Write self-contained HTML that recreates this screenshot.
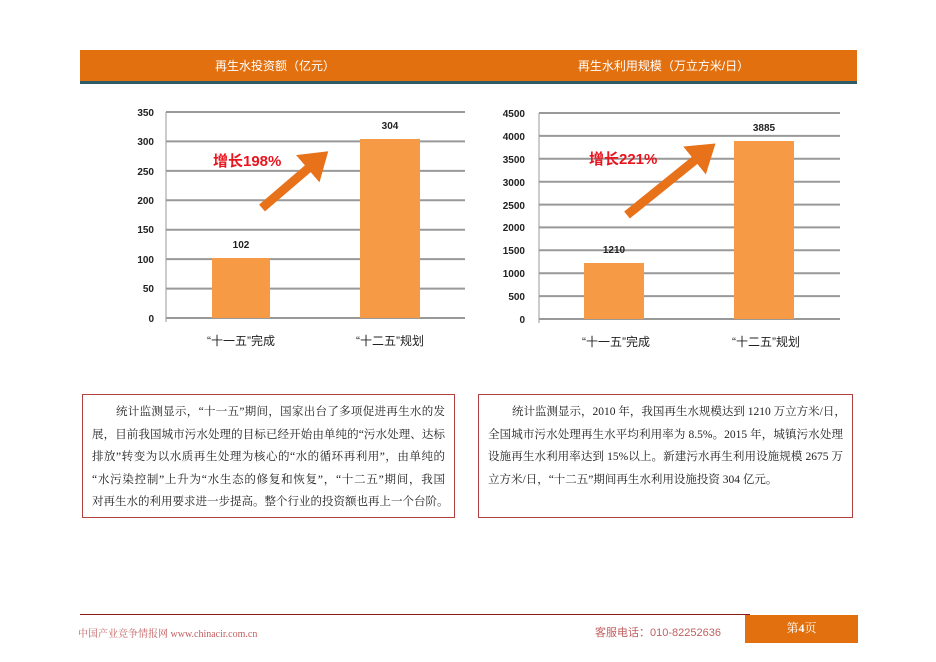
<!DOCTYPE html>
<html><head><meta charset="utf-8"><style>
body{margin:0;width:936px;height:662px;background:#fff;position:relative;overflow:hidden;font-family:"Liberation Serif","Noto Serif CJK SC",serif}
.abs{position:absolute}
.box{position:absolute;border:1px solid #b04040;box-sizing:border-box;padding:6px 9px;font-size:11.5px;line-height:22.6px;color:#222}
.box div{white-space:nowrap;text-align:justify;text-align-last:justify}
.box div.i{padding-left:24px}
.box div.l{text-align-last:left}
</style></head><body>
<div class="abs" style="left:80px;top:50px;width:777px;height:31px;background:#e2700f"></div>
<div class="abs" style="left:80px;top:81px;width:777px;height:3px;background:#2f5a68"></div>
<div class="abs" style="left:80px;top:57px;width:390px;text-align:center;color:#fff;font:12px 'Liberation Sans','Noto Sans CJK SC',sans-serif">再生水投资额（亿元）</div>
<div class="abs" style="left:470px;top:57px;width:387px;text-align:center;color:#fff;font:12px 'Liberation Sans','Noto Sans CJK SC',sans-serif">再生水利用规模（万立方米/日）</div>
<svg class="abs" style="left:0;top:0" width="936" height="380" font-family="Liberation Sans, Noto Sans CJK SC, sans-serif">
<defs><marker id="ah" markerWidth="4" markerHeight="4" refX="1.5" refY="2" orient="auto"><path d="M0,0L3,2L0,4Z" fill="#e8721a"/></marker></defs>
<g stroke="#999" stroke-width="2">
<line x1="166" x2="465" y1="112" y2="112"/><line x1="166" x2="465" y1="141.4" y2="141.4"/><line x1="166" x2="465" y1="170.9" y2="170.9"/><line x1="166" x2="465" y1="200.3" y2="200.3"/><line x1="166" x2="465" y1="229.7" y2="229.7"/><line x1="166" x2="465" y1="259.1" y2="259.1"/><line x1="166" x2="465" y1="288.6" y2="288.6"/><line x1="166" x2="465" y1="318" y2="318"/>
<line x1="539" x2="840" y1="113" y2="113"/><line x1="539" x2="840" y1="135.9" y2="135.9"/><line x1="539" x2="840" y1="158.8" y2="158.8"/><line x1="539" x2="840" y1="181.7" y2="181.7"/><line x1="539" x2="840" y1="204.6" y2="204.6"/><line x1="539" x2="840" y1="227.4" y2="227.4"/><line x1="539" x2="840" y1="250.3" y2="250.3"/><line x1="539" x2="840" y1="273.2" y2="273.2"/><line x1="539" x2="840" y1="296.1" y2="296.1"/><line x1="539" x2="840" y1="319" y2="319"/>
</g>
<g stroke="#999" stroke-width="1"><line x1="166" x2="166" y1="112" y2="322"/><line x1="539" x2="539" y1="113" y2="323"/></g>
<rect x="212" y="258" width="58" height="60" fill="#f79a46"/>
<rect x="360" y="139" width="60" height="179" fill="#f79a46"/>
<rect x="584" y="263" width="60" height="56" fill="#f79a46"/>
<rect x="734" y="141" width="60" height="178" fill="#f79a46"/>
<g font-size="10" font-weight="bold" text-anchor="end" fill="#222">
<text x="154" y="116">350</text><text x="154" y="145">300</text><text x="154" y="175">250</text><text x="154" y="204">200</text><text x="154" y="233">150</text><text x="154" y="263">100</text><text x="154" y="292">50</text><text x="154" y="322">0</text>
<text x="525" y="117">4500</text><text x="525" y="140">4000</text><text x="525" y="163">3500</text><text x="525" y="186">3000</text><text x="525" y="209">2500</text><text x="525" y="231">2000</text><text x="525" y="254">1500</text><text x="525" y="277">1000</text><text x="525" y="300">500</text><text x="525" y="323">0</text>
</g>
<g font-size="10" font-weight="bold" text-anchor="middle" fill="#222">
<text x="241" y="248">102</text><text x="390" y="129">304</text><text x="614" y="253">1210</text><text x="764" y="131">3885</text>
</g>
<g font-size="12" text-anchor="middle" fill="#222">
<text x="241" y="345">“十一五”完成</text><text x="390" y="345">“十二五”规划</text>
<text x="616" y="346">“十一五”完成</text><text x="766" y="346">“十二五”规划</text>
</g>
<g font-size="15" font-weight="bold" fill="#e8141e">
<text x="213" y="166">增长198%</text><text x="589" y="164">增长221%</text>
</g>
<line x1="262" y1="208" x2="318" y2="160" stroke="#e8721a" stroke-width="9" marker-end="url(#ah)"/>
<line x1="627" y1="215" x2="705" y2="152" stroke="#e8721a" stroke-width="9" marker-end="url(#ah)"/>
</svg>
<div class="box" style="left:82px;top:394px;width:373px;height:124px">
<div class="i">统计监测显示，“十一五”期间，国家出台了多项促进再生水的发</div>
<div>展，目前我国城市污水处理的目标已经开始由单纯的“污水处理、达标</div>
<div>排放”转变为以水质再生处理为核心的“水的循环再利用”，由单纯的</div>
<div>“水污染控制”上升为“水生态的修复和恢复”，“十二五”期间，我国</div>
<div>对再生水的利用要求进一步提高。整个行业的投资额也再上一个台阶。</div>
</div>
<div class="box" style="left:478px;top:394px;width:375px;height:124px">
<div class="i">统计监测显示，2010 年，我国再生水规模达到 1210 万立方米/日，</div>
<div>全国城市污水处理再生水平均利用率为 8.5%。2015 年，城镇污水处理</div>
<div>设施再生水利用率达到 15%以上。新建污水再生利用设施规模 2675 万</div>
<div class="l">立方米/日，“十二五”期间再生水利用设施投资 304 亿元。</div>
</div>
<div class="abs" style="left:80px;top:614px;width:670px;height:1px;background:#8b1a1a"></div>
<div class="abs" style="left:78px;top:625px;font-size:10px;color:#c06060">中国产业竞争情报网 www.chinacir.com.cn</div>
<div class="abs" style="left:595px;top:624px;font-size:11px;color:#c06060;font-family:'Liberation Sans','Noto Sans CJK SC',sans-serif">客服电话：010-82252636</div>
<div class="abs" style="left:745px;top:615px;width:113px;height:28px;background:#e2700f;color:#fff;font-size:12px;text-align:center;line-height:26px">第<b>4</b>页</div>
</body></html>
